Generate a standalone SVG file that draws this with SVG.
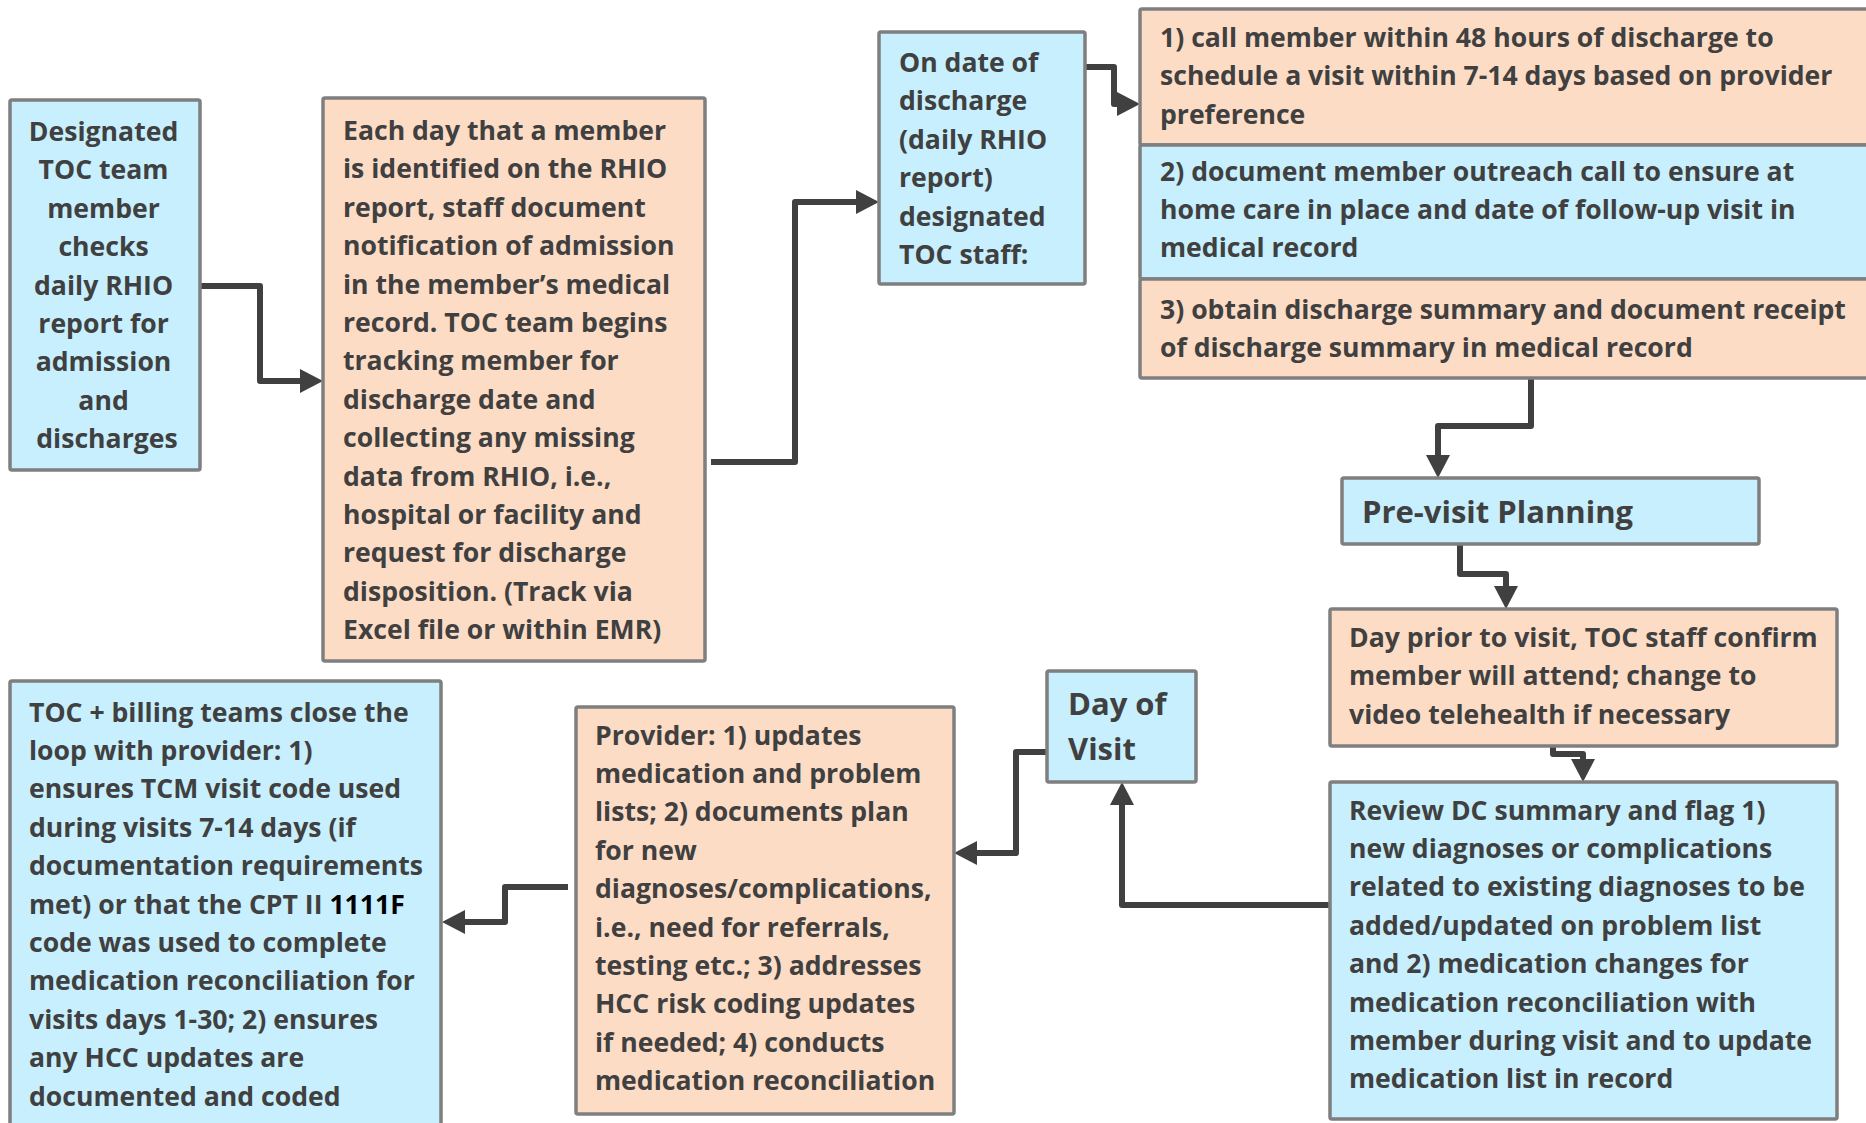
<svg xmlns="http://www.w3.org/2000/svg" width="1866" height="1123" viewBox="0 0 1866 1123">
<style>
.box{stroke:#7f7f7f;stroke-width:3.5}
.blue{fill:#c7effd}
.peach{fill:#fddcc5}
text{font-family:"Open Sans","DejaVu Sans",sans-serif;font-weight:700;font-size:26.6px;fill:#404040}
.big{font-size:31px}
.mid{text-anchor:middle}
.conn{fill:none;stroke:#404040;stroke-width:6;stroke-linejoin:round}
</style>
<defs>
<marker id="ah" markerUnits="userSpaceOnUse" markerWidth="24" markerHeight="24" refX="0" refY="12" orient="auto" viewBox="0 0 24 24">
<path d="M0,0 L23,12 L0,24 z" fill="#404040"/>
</marker>
</defs>
<rect width="1866" height="1123" fill="#ffffff"/>

<g id="connectors">
<path class="conn" marker-end="url(#ah)" d="M200,286 H260 V381 H300"/>
<path class="conn" marker-end="url(#ah)" d="M711,462 H795 V202 H856"/>
<path class="conn" marker-end="url(#ah)" d="M1085,67 H1114 V104 H1117"/>
<path class="conn" marker-end="url(#ah)" d="M1531,378 V426 H1438 V455"/>
<path class="conn" marker-end="url(#ah)" d="M1460,544 V574 H1506 V586"/>
<path class="conn" marker-end="url(#ah)" d="M1553,746 V754 H1583 V759"/>
<path class="conn" marker-end="url(#ah)" d="M1330,905 H1122 V805"/>
<path class="conn" marker-end="url(#ah)" d="M1047,752 H1016 V853 H977"/>
<path class="conn" marker-end="url(#ah)" d="M568,887 H505 V922 H465"/>
</g>

<g id="node-designated">
<rect class="box blue" x="10" y="100" width="190" height="370" rx="2"/>
<text class="mid">
<tspan x="107" y="141">Designated</tspan>
<tspan x="107" y="179.4">TOC team</tspan>
<tspan x="107" y="217.8">member</tspan>
<tspan x="107" y="256.2">checks</tspan>
<tspan x="107" y="294.6">daily RHIO</tspan>
<tspan x="107" y="333">report for</tspan>
<tspan x="107" y="371.4">admission</tspan>
<tspan x="107" y="409.8">and</tspan>
<tspan x="107" y="448.2">discharges</tspan>
</text>
</g>

<g id="node-each-day">
<rect class="box peach" x="323" y="98" width="382" height="563" rx="2"/>
<text>
<tspan x="343" y="140">Each day that a member</tspan>
<tspan x="343" y="178.4">is identified on the RHIO</tspan>
<tspan x="343" y="216.8">report, staff document</tspan>
<tspan x="343" y="255.2">notification of admission</tspan>
<tspan x="343" y="293.6">in the member’s medical</tspan>
<tspan x="343" y="332">record. TOC team begins</tspan>
<tspan x="343" y="370.4">tracking member for</tspan>
<tspan x="343" y="408.8">discharge date and</tspan>
<tspan x="343" y="447.2">collecting any missing</tspan>
<tspan x="343" y="485.6">data from RHIO, i.e.,</tspan>
<tspan x="343" y="524">hospital or facility and</tspan>
<tspan x="343" y="562.4">request for discharge</tspan>
<tspan x="343" y="600.8">disposition. (Track via</tspan>
<tspan x="343" y="639.2">Excel file or within EMR)</tspan>
</text>
</g>

<g id="node-on-date">
<rect class="box blue" x="879" y="32" width="206" height="252" rx="2"/>
<text>
<tspan x="899" y="72">On date of</tspan>
<tspan x="899" y="110.4">discharge</tspan>
<tspan x="899" y="148.8">(daily RHIO</tspan>
<tspan x="899" y="187.2">report)</tspan>
<tspan x="899" y="225.6">designated</tspan>
<tspan x="899" y="264">TOC staff:</tspan>
</text>
</g>

<g id="node-step1">
<rect class="box peach" x="1140" y="9" width="740" height="136" rx="2"/>
<text>
<tspan x="1160" y="47">1) call member within 48 hours of discharge to</tspan>
<tspan x="1160" y="85.4">schedule a visit within 7-14 days based on provider</tspan>
<tspan x="1160" y="123.8">preference</tspan>
</text>
</g>

<g id="node-step2">
<rect class="box blue" x="1140" y="145" width="740" height="134" rx="2"/>
<text>
<tspan x="1160" y="180.5">2) document member outreach call to ensure at</tspan>
<tspan x="1160" y="218.9">home care in place and date of follow-up visit in</tspan>
<tspan x="1160" y="257.3">medical record</tspan>
</text>
</g>

<g id="node-step3">
<rect class="box peach" x="1140" y="279" width="740" height="99" rx="2"/>
<text>
<tspan x="1160" y="318.5">3) obtain discharge summary and document receipt</tspan>
<tspan x="1160" y="356.9">of discharge summary in medical record</tspan>
</text>
</g>

<g id="node-previsit">
<rect class="box blue" x="1342" y="478" width="417" height="66" rx="2"/>
<text class="big" x="1362" y="523">Pre-visit Planning</text>
</g>

<g id="node-day-prior">
<rect class="box peach" x="1330" y="609" width="507" height="137" rx="2"/>
<text>
<tspan x="1349" y="647">Day prior to visit, TOC staff confirm</tspan>
<tspan x="1349" y="685.4">member will attend; change to</tspan>
<tspan x="1349" y="723.8">video telehealth if necessary</tspan>
</text>
</g>

<g id="node-review">
<rect class="box blue" x="1330" y="782" width="507" height="337" rx="2"/>
<text>
<tspan x="1349" y="819.5">Review DC summary and flag 1)</tspan>
<tspan x="1349" y="857.9">new diagnoses or complications</tspan>
<tspan x="1349" y="896.3">related to existing diagnoses to be</tspan>
<tspan x="1349" y="934.7">added/updated on problem list</tspan>
<tspan x="1349" y="973.1">and 2) medication changes for</tspan>
<tspan x="1349" y="1011.5">medication reconciliation with</tspan>
<tspan x="1349" y="1049.9">member during visit and to update</tspan>
<tspan x="1349" y="1088.3">medication list in record</tspan>
</text>
</g>

<g id="node-day-of-visit">
<rect class="box blue" x="1047" y="671" width="149" height="111" rx="2"/>
<text class="big">
<tspan x="1068" y="715">Day of</tspan>
<tspan x="1068" y="760">Visit</tspan>
</text>
</g>

<g id="node-provider">
<rect class="box peach" x="576" y="707" width="378" height="407" rx="2"/>
<text>
<tspan x="595" y="744.5">Provider: 1) updates</tspan>
<tspan x="595" y="782.9">medication and problem</tspan>
<tspan x="595" y="821.3">lists; 2) documents plan</tspan>
<tspan x="595" y="859.7">for new</tspan>
<tspan x="595" y="898.1">diagnoses/complications,</tspan>
<tspan x="595" y="936.5">i.e., need for referrals,</tspan>
<tspan x="595" y="974.9">testing etc.; 3) addresses</tspan>
<tspan x="595" y="1013.3">HCC risk coding updates</tspan>
<tspan x="595" y="1051.7">if needed; 4) conducts</tspan>
<tspan x="595" y="1090.1">medication reconciliation</tspan>
</text>
</g>

<g id="node-close-loop">
<rect class="box blue" x="10" y="681" width="431" height="460" rx="2"/>
<text>
<tspan x="29" y="721.5">TOC + billing teams close the</tspan>
<tspan x="29" y="759.9">loop with provider: 1)</tspan>
<tspan x="29" y="798.3">ensures TCM visit code used</tspan>
<tspan x="29" y="836.7">during visits 7-14 days (if</tspan>
<tspan x="29" y="875.1">documentation requirements</tspan>
<tspan x="29" y="913.5">met) or that the CPT II <tspan fill="#000000">1111F</tspan></tspan>
<tspan x="29" y="951.9">code was used to complete</tspan>
<tspan x="29" y="990.3">medication reconciliation for</tspan>
<tspan x="29" y="1028.7">visits days 1-30; 2) ensures</tspan>
<tspan x="29" y="1067.1">any HCC updates are</tspan>
<tspan x="29" y="1105.5">documented and coded</tspan>
</text>
</g>
</svg>
